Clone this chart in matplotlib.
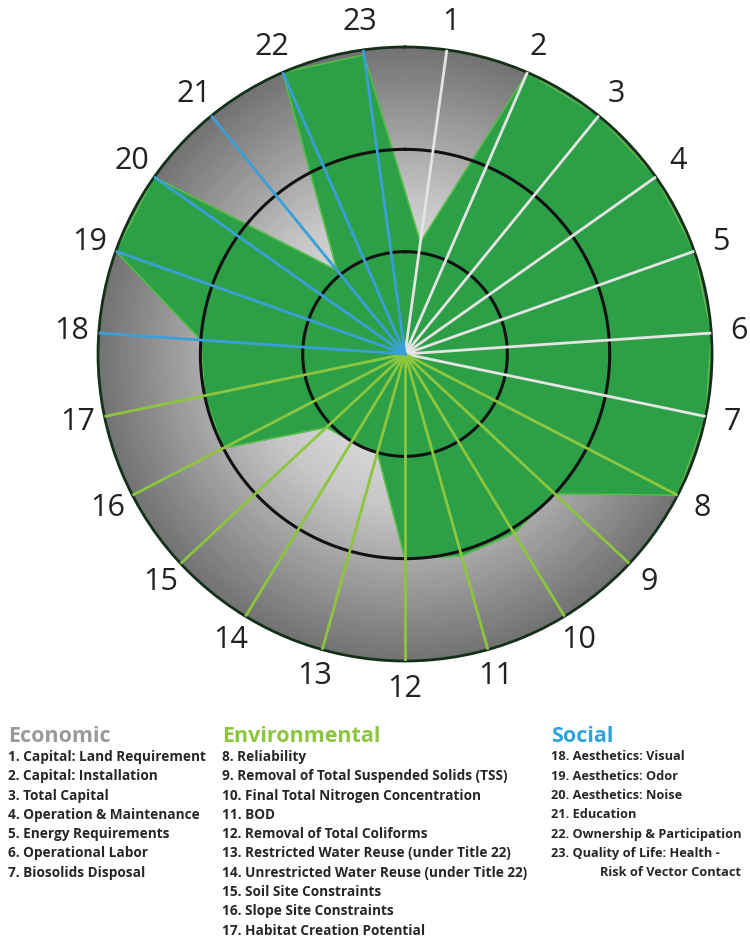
import numpy as np
import matplotlib.pyplot as plt
from matplotlib.colors import LinearSegmentedColormap

plt.rcParams['font.family'] = ['Open Sans', 'DejaVu Sans']

# scores on the 0-3 scale, one per criterion (1..23)
criteria = list(range(1, 24))
scores = [1.1, 3, 3, 3, 3, 3, 3, 3, 2.0, 2.05, 2.05, 2.0, 1.0, 1.0, 1.05,
          2.0, 2.0, 2.0, 3, 3, 1.05, 3, 2.95]
groups = ['eco'] * 7 + ['env'] * 10 + ['soc'] * 6

econ_items = ['1. Capital: Land Requirement', '2. Capital: Installation', '3. Total Capital',
              '4. Operation & Maintenance', '5. Energy Requirements', '6. Operational Labor',
              '7. Biosolids Disposal']
env_items = ['8. Reliability', '9. Removal of Total Suspended Solids (TSS)',
             '10. Final Total Nitrogen Concentration', '11. BOD', '12. Removal of Total Coliforms',
             '13. Restricted Water Reuse (under Title 22)', '14. Unrestricted Water Reuse (under Title 22)',
             '15. Soil Site Constraints', '16. Slope Site Constraints', '17. Habitat Creation Potential']
soc_items = ['18. Aesthetics: Visual', '19. Aesthetics: Odor', '20. Aesthetics: Noise', '21. Education',
             '22. Ownership & Participation', '23. Quality of Life: Health -']

spoke_col = {'eco': '#e4e4e4', 'env': '#8cc63f', 'soc': '#3a9fd8'}
head_col = {'eco': '#9a9a9a', 'env': '#8cc63f', 'soc': '#2ea3dd'}

n = len(criteria)
theta = (np.array(criteria) - 0.5) * 2 * np.pi / n

fig = plt.figure(figsize=(7.5, 9.4), dpi=100)
ax = fig.add_axes([0.1307, 0.2968, 0.8187, 0.6532], projection='polar')
ax.set_theta_zero_location('N')
ax.set_theta_direction(-1)

# radial gray gradient background
cmap = LinearSegmentedColormap.from_list('g', ['#f2f2f2', '#c6c6c6', '#727272'])
tt, rr = np.meshgrid(np.linspace(0, 2 * np.pi, 200), np.linspace(0, 3, 120))
ax.pcolormesh(tt, rr, rr, cmap=cmap, shading='auto', zorder=0)

# score polygon
t_closed = np.append(theta, theta[0])
s_closed = np.append(scores, scores[0])
ax.fill(t_closed, s_closed, color='#2da047', zorder=2)
ax.plot(t_closed, s_closed, color='#5cc04a', lw=1, zorder=2)

# rings
circ = np.linspace(0, 2 * np.pi, 400)
for r in [1, 2]:
    ax.plot(circ, np.full_like(circ, r), color='#111111', lw=2.2, zorder=3)

# spokes
for t, g in zip(theta, groups):
    ax.plot([t, t], [0, 3], color=spoke_col[g], lw=2, zorder=4)

for t, c in zip(theta, criteria):
    ax.text(t, 3.27, str(c), ha='center', va='center', fontsize=22, color='#222222')

ax.set_ylim(0, 3)
ax.set_xticks([])
ax.set_yticks([])
ax.grid(False)
ax.spines['polar'].set_color('#15301a')
ax.spines['polar'].set_linewidth(2)
ax.set_facecolor('none')

# legend blocks
def block(x, title, items, col, fs):
    fig.text(x / 750, 1 - 736 / 940, title, fontsize=15.5, fontweight='bold', color=col,
             ha='left', va='center')
    for i, s in enumerate(items):
        fig.text(x / 750, 1 - (757 + i * 19.3) / 940, s, fontsize=fs, fontweight='bold',
                 color='#262626', ha='left', va='center')

block(8, 'Economic', econ_items, head_col['eco'], 9.8)
block(222, 'Environmental', env_items, head_col['env'], 9.8)
block(551, 'Social', soc_items, head_col['soc'], 9.2)
fig.text(600 / 750, 1 - (757 + 6 * 19.3) / 940, 'Risk of Vector Contact', fontsize=9.2,
         fontweight='bold', color='#262626', ha='left', va='center')

fig.savefig('out.png', dpi=100)
